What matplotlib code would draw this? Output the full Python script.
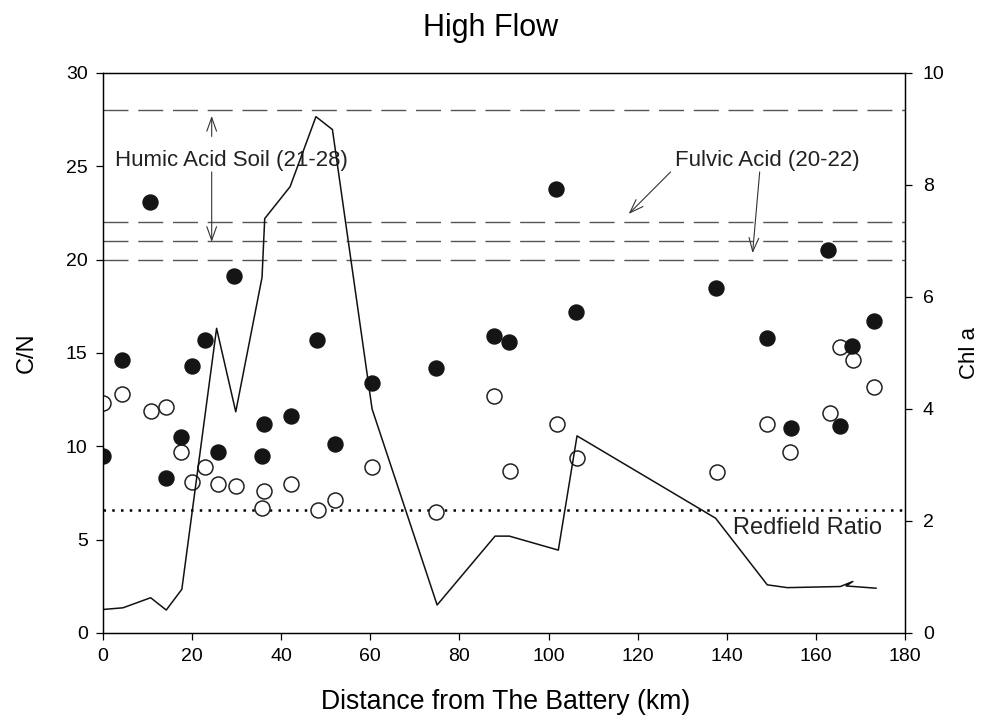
import numpy as np
import matplotlib.pyplot as plt

plt.rcParams.update({
    "font.family": "Liberation Sans",
    "font.size": 14,
    "axes.linewidth": 0.9,
    "xtick.major.width": 0.9,
    "ytick.major.width": 0.9,
    "xtick.major.size": 5,
    "ytick.major.size": 5,
    "xtick.labelsize": 14,
    "ytick.labelsize": 14,
})

# C/N, filled symbols
cn_km = [0.0, 4.3, 10.6, 14.1, 17.5, 19.9, 22.8, 25.8, 29.5, 35.8, 36.2, 42.3,
         48.0, 52.0, 60.4, 74.7, 87.7, 91.2, 101.7, 106.2, 137.7, 149.0, 154.4,
         162.8, 165.5, 168.2, 173.1]
cn_val = [9.5, 14.6, 23.1, 8.3, 10.5, 14.3, 15.7, 9.7, 19.1, 9.5, 11.2, 11.6,
          15.7, 10.1, 13.4, 14.2, 15.9, 15.6, 23.8, 17.2, 18.5, 15.8, 11.0,
          20.5, 11.1, 15.4, 16.7]

# C/N, open symbols
cn2_km = [0.1, 4.3, 10.7, 14.1, 17.5, 19.9, 22.9, 25.8, 29.8, 36.2, 35.8, 42.3,
          48.2, 52.0, 60.4, 74.8, 87.7, 91.3, 101.9, 106.4, 137.9, 149.1, 154.2,
          163.1, 165.4, 168.4, 173.1]
cn2_val = [12.3, 12.8, 11.9, 12.1, 9.7, 8.1, 8.9, 8.0, 7.9, 7.6, 6.7, 8.0,
           6.6, 7.1, 8.9, 6.5, 12.7, 8.7, 11.2, 9.4, 8.6, 11.2, 9.7,
           11.8, 15.3, 14.6, 13.2]

# Chl a along the estuary (right axis)
chl_km = [0.0, 4.5, 10.7, 14.2, 17.7, 25.5, 29.8, 35.7, 36.3, 42.0, 47.8, 51.5,
          60.4, 75.0, 88.0, 91.2, 102.2, 106.4, 137.5, 149.1, 153.6, 165.5,
          168.3, 166.8, 173.5]
chl_val = [0.42, 0.45, 0.63, 0.41, 0.78, 5.44, 3.95, 6.35, 7.4, 7.97, 9.22, 8.99,
           4.0, 0.5, 1.73, 1.73, 1.48, 3.52, 2.05, 0.86, 0.81, 0.83,
           0.92, 0.84, 0.80]

humic_range = [21, 28]
fulvic_range = [20, 22]
redfield = 6.6

fig = plt.figure(figsize=(9.94, 7.27), dpi=100)
ax = fig.add_axes([0.1036, 0.1293, 0.8068, 0.7703])
ax2 = ax.twinx()

dash = (0, (18, 7))
for v in humic_range + fulvic_range:
    ax.axhline(v, color="#555555", lw=1.0, ls=dash, zorder=1)
ax.axhline(redfield, color="black", lw=1.8, ls=(0, (1, 2.5)), zorder=1)

ax.plot(cn2_km, cn2_val, "o", ms=10.8, mfc="white", mec="#222222", mew=1.1,
        zorder=3)
ax.plot(cn_km, cn_val, "o", ms=10.8, mfc="#151515", mec="#151515", zorder=3)

ax2.plot(chl_km, chl_val, "-", color="#111111", lw=1.1)

ax.set_xlim(0, 180)
ax.set_ylim(0, 30)
ax2.set_ylim(0, 10)
ax.set_xticks(np.arange(0, 181, 20))
ax.set_yticks(np.arange(0, 31, 5))
ax2.set_yticks(np.arange(0, 11, 2))
ax.tick_params(pad=6)
ax2.tick_params(pad=8)

ax.set_ylabel("C/N", fontsize=17, labelpad=20)
ax2.set_ylabel("Chl a", fontsize=16, labelpad=10)
fig.text(0.509, 0.034, "Distance from The Battery (km)", fontsize=19.2,
         ha="center", va="center")
fig.text(0.494, 0.961, "High Flow", fontsize=22, ha="center", va="center")

# annotations
arrow = dict(arrowstyle="->,head_length=0.7,head_width=0.25", lw=0.8,
             color="#333333", shrinkA=0, shrinkB=0)
ax.text(2.7, 25.3, "Humic Acid Soil (21-28)", fontsize=16, va="center",
        color="#222222")
ax.annotate("", xy=(24.4, 27.7), xytext=(24.4, 26.6), arrowprops=arrow)
ax.annotate("", xy=(24.4, 20.95), xytext=(24.4, 24.7), arrowprops=arrow)

ax.text(128.5, 25.3, "Fulvic Acid (20-22)", fontsize=16, va="center",
        color="#222222")
ax.annotate("", xy=(118.0, 22.45), xytext=(127.4, 24.7), arrowprops=arrow)
ax.annotate("", xy=(145.8, 20.35), xytext=(147.4, 24.7), arrowprops=arrow)

ax.text(141.3, 5.6, "Redfield Ratio", fontsize=17, va="center",
        color="#222222")

fig.savefig("out.png", dpi=100)
